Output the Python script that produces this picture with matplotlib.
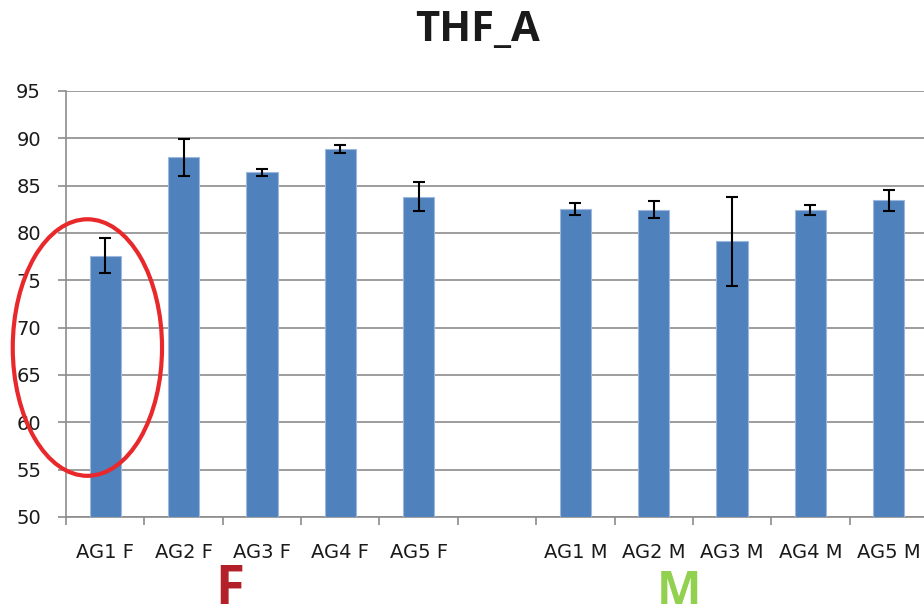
import numpy as np
import matplotlib
matplotlib.use("Agg")
import matplotlib.pyplot as plt
from matplotlib.patches import Ellipse

categories = ['AG1 F', 'AG2 F', 'AG3 F', 'AG4 F', 'AG5 F', '',
              'AG1 M', 'AG2 M', 'AG3 M', 'AG4 M', 'AG5 M']
values = [77.6, 88.0, 86.4, 88.85, 83.85, np.nan,
          82.5, 82.45, 79.15, 82.4, 83.45]
errors = [1.85, 1.95, 0.35, 0.45, 1.55, np.nan,
          0.65, 0.9, 4.7, 0.55, 1.1]
yticks = [50, 55, 60, 65, 70, 75, 80, 85, 90, 95]
title = 'THF_A'

W, H = 924, 613
fig = plt.figure(figsize=(W / 100, H / 100), dpi=100)
ax = fig.add_axes([66 / W, 1 - 517 / H, (928 - 66) / W, (517 - 91) / H])

x = np.arange(len(categories))
vals = np.array(values, dtype=float)
errs = np.array(errors, dtype=float)
mask = ~np.isnan(vals)

ax.bar(x[mask], vals[mask] - 50, bottom=50, width=0.4, color='#4f81bd',
       edgecolor='#9db8dc', linewidth=0.8, zorder=3)
ax.errorbar(x[mask], vals[mask], yerr=errs[mask], fmt='none', ecolor='black',
            elinewidth=1.5, capsize=4.5, capthick=1.5, zorder=4)

ax.set_xlim(-0.5, len(categories) - 0.5)
ax.set_ylim(50, 95)
ax.set_yticks(yticks)
ax.set_yticklabels([str(v) for v in yticks])
ax.grid(axis='y', color='#8c8c8c', linewidth=1.2, zorder=0)
ax.set_axisbelow(True)

ax.set_xticks(x)
ax.set_xticklabels(categories)
ax.set_xticks(np.arange(len(categories) + 1) - 0.5, minor=True)
ax.tick_params(axis='x', which='major', length=0, pad=19, labelsize=14,
               labelcolor='#1a1a1a')
ax.tick_params(axis='x', which='minor', length=6, width=1.2, color='#8c8c8c')
ax.tick_params(axis='y', length=6, width=1.2, color='#8c8c8c', pad=12,
               labelsize=14, labelcolor='#1a1a1a')

for s in ['top', 'right']:
    ax.spines[s].set_visible(False)
for s in ['left', 'bottom']:
    ax.spines[s].set_color('#8c8c8c')
    ax.spines[s].set_linewidth(1.2)

# red ellipse highlighting the first bar
ell = Ellipse((-0.227, 67.9), width=1.905, height=27.1, fill=False,
              edgecolor='#e8282b', linewidth=3.0, clip_on=False, zorder=5)
ax.add_patch(ell)

fig.text(477 / W, 1 - 30 / H, title, ha='center', va='center',
         fontsize=30, fontweight='bold', family=['Open Sans', 'DejaVu Sans'],
         color='#1a1a1a')
fig.text(230 / W, 1 - 604 / H, 'F', ha='center', va='baseline',
         fontsize=38, fontweight='bold', family=['Open Sans', 'DejaVu Sans'],
         color='#b3202a')
fig.text(679 / W, 1 - 604 / H, 'M', ha='center', va='baseline',
         fontsize=34, fontweight='bold', family=['Open Sans', 'DejaVu Sans'],
         color='#92d050')

fig.savefig('out.png', dpi=100)
